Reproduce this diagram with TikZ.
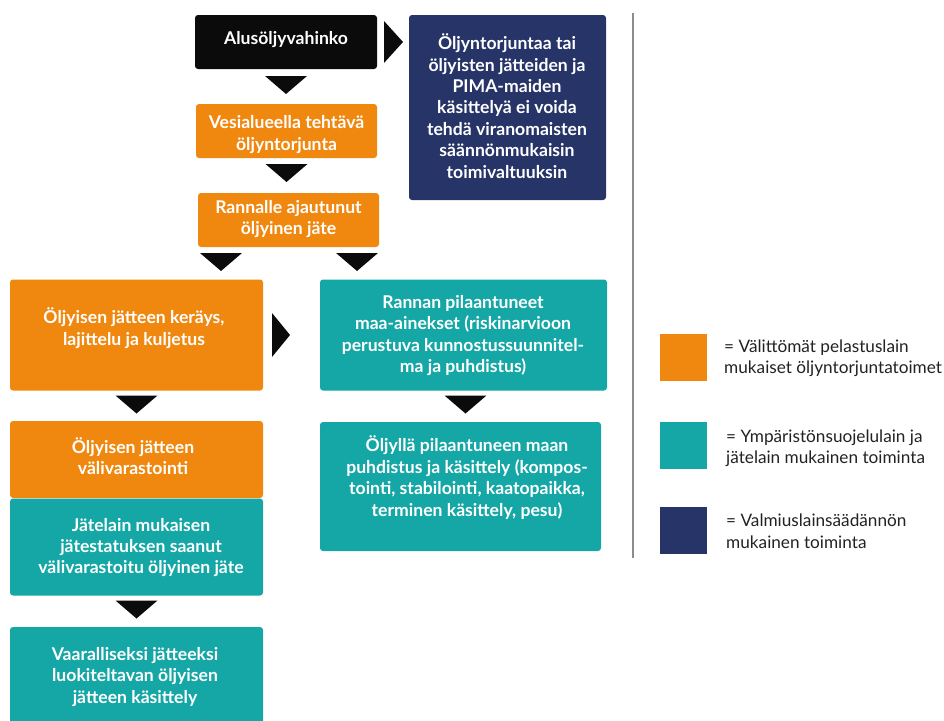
\documentclass[tikz,border=0pt]{standalone}
\usepackage{fontspec}
\setmainfont{Lato}
\usetikzlibrary{calc}
\definecolor{orng}{HTML}{F0880F}
\definecolor{tealc}{HTML}{15A6A6}
\definecolor{navy}{HTML}{263468}
\definecolor{dark}{HTML}{0B0B0B}
\definecolor{legtxt}{HTML}{222222}
\begin{document}
\begin{tikzpicture}[x=1pt,y=-1pt,
  box/.style={rectangle, rounded corners=3pt, inner sep=0pt, outer sep=0pt},
  txt/.style={text=white, font=\fontsize{17.6}{21.4}\selectfont\bfseries, align=center, inner sep=0pt},
  tri/.style={fill=dark},
  leg/.style={font=\fontsize{17.2}{21.5}\selectfont, text=legtxt, align=left, anchor=west, inner sep=0pt},
  legbox/.style={rectangle, inner sep=0pt, minimum width=47, minimum height=47}]
\useasboundingbox (0,0) rectangle (944,720);
% boxes
\node[box, fill=dark, minimum width=182, minimum height=54] (b0) at (286,42) {};
\node[box, fill=navy, minimum width=197, minimum height=185] (nv) at (507.5,107.5) {};
\node[box, fill=orng, minimum width=181, minimum height=54] (o1) at (286.5,131) {};
\node[box, fill=orng, minimum width=181, minimum height=54] (o2) at (288.5,220) {};
\node[box, fill=orng, minimum width=253, minimum height=111] (o3) at (136.5,335) {};
\node[box, fill=tealc, minimum width=287, minimum height=111] (t1) at (463.5,335) {};
\node[box, fill=orng, minimum width=253, minimum height=77] (o4) at (136.5,459.5) {};
\node[box, fill=tealc, minimum width=253, minimum height=97] (t2) at (136.5,547) {};
\node[box, fill=tealc, minimum width=281, minimum height=129] (t3) at (460.5,486.5) {};
\node[box, fill=tealc, minimum width=253, minimum height=103] (t4) at (136.5,678.5) {};
% texts
\node[txt] (b0t) at (286,40) {Alusöljyvahinko};
\node[txt] (nvt) at (507,106) {Öljyntorjuntaa tai\\öljyisten jätteiden ja\\PIMA-maiden\\käsittelyä ei voida\\tehdä viranomaisten\\säännönmukaisin\\toimivaltuuksin};
\node[txt] (o1t) at (286.5,134.5) {Vesialueella tehtävä\\öljyntorjunta};
\node[txt] (o2t) at (288.5,219) {Rannalle ajautunut\\öljyinen jäte};
\node[txt] (o3t) at (134,328) {Öljyisen jätteen keräys,\\lajittelu ja kuljetus};
\node[txt] (t1t) at (463,335.5) {Rannan pilaantuneet\\maa-ainekset (riskinarvioon\\perustuva kunnostussuunnitel-\\ma ja puhdistus)};
\node[txt] (o4t) at (133,456) {Öljyisen jätteen\\välivarastointi};
\node[txt] (t2t) at (141,547.5) {Jätelain mukaisen\\jätestatuksen saanut\\välivarastoitu öljyinen jäte};
\node[txt] (t3t) at (467,477.5) {Öljyllä pilaantuneen maan\\puhdistus ja käsittely (kompos-\\tointi, stabilointi, kaatopaikka,\\terminen käsittely, pesu)};
\node[txt] (t4t) at (135,677) {Vaaralliseksi jätteeksi\\luokiteltavan öljyisen\\jätteen käsittely};
% triangles
\fill[tri] ($(b0.east)+(7,-21)$) -- ++(19,21) -- ++(-19,21) -- cycle;
\fill[tri] ($(b0.south)+(-21,7)$) -- ++(42,0) -- ++(-21,18) -- cycle;
\fill[tri] ($(o1.south)+(-21,6)$) -- ++(42,0) -- ++(-21,18) -- cycle;
\fill[tri] ($(o2.south west)+(2,6)$) -- ++(42,0) -- ++(-21,18) -- cycle;
\fill[tri] ($(o2.south east)+(-43,6)$) -- ++(42,0) -- ++(-21,18) -- cycle;
\fill[tri] ($(o3.east)+(9,-22)$) -- ++(18,22) -- ++(-18,22) -- cycle;
\fill[tri] ($(o3.south)+(-21,5)$) -- ++(42,0) -- ++(-21,18) -- cycle;
\fill[tri] ($(t1.south)+(-19,5)$) -- ++(42,0) -- ++(-21,18) -- cycle;
\fill[tri] ($(t2.south)+(-21,5)$) -- ++(42,0) -- ++(-21,18) -- cycle;
% divider
\coordinate (dtop) at (633,13);
\coordinate (dbot) at (633,558);
\draw[color=black!45, line width=1.2] (dtop) -- (dbot);
% legend
\node[legbox, fill=orng] (l1) at (683.5,357.5) {};
\node[legbox, fill=tealc] (l2) at (683.5,445.5) {};
\node[legbox, fill=navy] (l3) at (683.5,530) {};
\node[leg] (l1t) at (724,358) {= Välittömät pelastuslain\\mukaiset öljyntorjuntatoimet};
\node[leg] (l2t) at (726,448) {= Ympäristönsuojelulain ja\\jätelain mukainen toiminta};
\node[leg] (l3t) at (726,531) {= Valmiuslainsäädännön\\mukainen toiminta};
\end{tikzpicture}
\end{document}
